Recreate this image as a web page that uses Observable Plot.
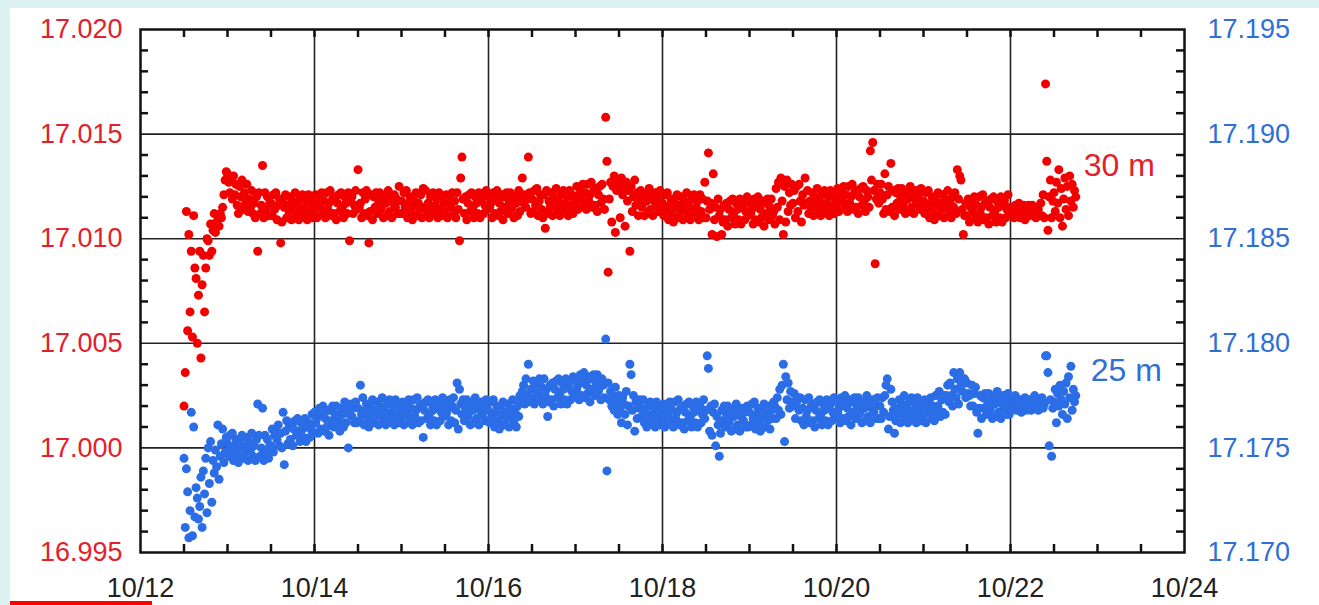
<!DOCTYPE html>
<html><head><meta charset="utf-8">
<script src="https://cdn.jsdelivr.net/npm/d3@7"></script>
<script src="https://cdn.jsdelivr.net/npm/@observablehq/plot@0.6"></script>
<style>
html,body{margin:0;padding:0;background:#ddf3f1;width:1319px;height:605px;overflow:hidden;position:relative;}
#card{position:absolute;left:10px;top:8px;width:1309px;height:597px;background:#fff;}
#bar{position:absolute;left:10px;top:601px;width:142px;height:4px;background:#f00;}
</style></head><body><div id="card"></div><div id="bar"></div>
<script>
// ---- axis ticks ----
const dayTicks = [12, 14, 16, 18, 20, 22, 24];
const dayLabels = ["10/12", "10/14", "10/16", "10/18", "10/20", "10/22", "10/24"];
const halfDayTicks = [12.5,13,13.5,14,14.5,15,15.5,16,16.5,17,17.5,18,18.5,19,19.5,20,20.5,21,21.5,22,22.5,23,23.5];
const leftTicks = [16.995, 17.000, 17.005, 17.010, 17.015, 17.020];
const minorLeftTicks = [16.996,16.997,16.998,16.999,17.001,17.002,17.003,17.004,17.006,17.007,17.008,17.009,17.011,17.012,17.013,17.014,17.016,17.017,17.018,17.019];
const rightOffset = 0.175; // right axis (25 m) = left axis + 0.175

// ---- time blocks (day of October); each block holds evenly spaced readings ----
const blockStarts = [12.5,13,13.5,14,14.5,15,15.5,16,16.5,17,17.5,18,18.5,19,19.5,20,20.5,21,21.5,22,22.5];
const blockEnds   = [13,13.5,14,14.5,15,15.5,16,16.5,17,17.5,18,18.5,19,19.5,20,20.5,21,21.5,22,22.5,22.75];

// 30 m series, left axis, in units of 0.0001 above 17.000
const red30 = [
[20,36,113,56,102,65,94,53,111,86,81,50,73,94,43,78,92,65,86,100,99,92,107,94,104,112,103,108,111,106,112,110,115,121,128,132],
[131,127,122,128,119,130,121,126,116,112,125,120,128,114,122,117,126,113,119,115,123,112,117,110,120,94,122,112,116,135,110,122,114,120,111,117],
[117,111,121,114,122,109,116,119,98,108,119,115,121,110,116,113,120,109,118,114,122,111,116,109,119,114,121,111,115,118,109,121,113,119,110,116],
[113,121,110,117,120,115,122,112,118,110,122,114,117,123,111,119,112,120,109,117,121,113,122,115,110,120,117,112,122,99,118,120,112,116,123,114],
[133,115,117,110,122,112,119,123,111,98,113,121,109,120,115,122,112,118,122,114,116,110,120,117,111,123,113,120,110,117,121,115,119,112,125,112],
[118,112,122,115,123,110,117,120,113,109,120,116,122,111,117,114,121,110,124,115,123,112,117,110,120,115,122,112,116,119,110,122,114,120,111,117],
[113,121,110,117,120,115,122,112,118,110,122,114,99,129,139,119,112,120,109,117,121,113,122,115,110,120,117,112,122,110,118,120,112,116,123,114],
[120,115,117,110,122,112,119,123,111,117,113,121,109,120,115,122,112,118,122,114,116,110,120,117,111,123,113,120,129,117,121,115,119,139,122,112],
[119,113,123,116,124,111,118,121,114,110,121,105,123,112,118,115,122,111,120,116,124,113,118,111,121,116,123,113,117,120,111,123,115,121,112,118],
[117,125,114,121,124,119,126,116,122,114,126,118,121,127,115,123,116,124,113,121,125,117,126,119,114,158,137,84,119,127,108,125,130,103,123,128],
[126,110,129,121,124,106,127,118,123,94,125,113,120,128,116,122,111,119,123,115,117,111,121,118,112,124,114,121,111,118,122,116,120,113,123,113],
[117,111,121,114,122,109,116,119,112,108,119,115,121,110,116,113,120,109,118,114,122,111,116,109,119,114,121,111,115,118,109,121,113,119,110,127],
[110,118,141,114,117,102,131,109,115,101,119,111,114,102,108,116,109,117,106,114,118,110,119,112,107,117,114,109,119,107,115,117,109,113,120,111],
[117,112,114,107,119,109,116,120,108,114,110,118,106,117,112,119,109,115,119,111,113,107,124,115,127,109,129,118,102,125,108,128,113,122,116,126],
[117,123,110,125,113,126,118,108,121,116,129,117,123,112,118,115,122,111,120,116,124,113,118,111,121,116,123,113,117,120,111,123,115,121,112,118],
[116,124,113,120,123,118,125,115,121,113,125,117,120,126,114,122,115,123,112,120,124,116,125,118,113,123,120,115,142,128,146,123,88,119,126,117],
[122,126,119,112,131,114,121,125,113,136,115,123,111,122,117,124,114,120,124,116,118,112,122,119,113,125,115,122,112,119,123,117,121,114,124,114],
[118,112,122,115,123,110,117,120,113,109,120,116,122,111,117,114,121,110,119,115,123,112,117,110,120,115,122,112,133,119,130,128,114,102,111,117],
[111,119,108,115,118,113,120,110,116,108,120,112,115,121,109,117,110,118,107,115,119,111,120,113,108,118,115,110,120,108,116,118,110,114,121,112],
[115,112,113,110,116,111,115,117,110,114,111,116,109,115,112,116,111,114,116,112,113,110,115,114,111,117,111,121,110,174,137,104,120,128,110,118],
[122,113,127,117,133,110,124,106,119,129,114,125,111,130,118,126,115,123,120]
];

// 25 m series, right axis, in units of 0.0001 above 17.170
const blue25 = [
[45,12,40,29,7,20,67,8,60,17,31,26,16,22,36,12,39,28,45,19,50,33,53,24,44,38,49,41,61,35,46,52,59,43,48,55],
[52,46,56,49,57,44,51,54,47,43,54,50,56,45,51,48,55,44,53,49,57,46,51,44,54,71,56,46,50,69,44,56,48,54,45,51],
[51,59,48,56,59,54,61,51,57,50,67,42,58,63,52,60,54,62,51,59,63,56,64,58,53,62,59,55,64,53,60,62,55,59,66,57],
[67,62,64,57,69,59,66,70,58,64,60,68,56,68,63,70,60,66,70,62,64,58,69,66,60,72,62,69,50,66,71,65,69,62,72,62],
[69,63,80,66,74,61,68,71,64,60,71,67,73,62,68,65,72,61,70,66,74,63,68,61,71,66,73,63,67,70,61,73,65,71,62,68],
[64,72,61,68,71,66,73,63,69,61,73,65,68,74,62,70,63,71,55,68,72,64,73,66,61,71,68,63,73,61,69,71,63,67,74,65],
[71,66,68,61,73,63,70,74,62,68,81,59,78,71,66,73,63,69,73,65,67,61,71,68,62,74,64,71,61,68,72,66,70,63,73,63],
[68,62,72,65,73,60,67,70,63,59,70,66,72,61,67,64,71,60,69,65,73,62,67,60,70,65,75,73,77,80,71,83,75,90,72,78],
[74,82,71,78,81,76,83,73,79,71,83,75,78,65,72,80,73,81,70,78,82,74,83,76,71,81,78,73,83,71,79,81,73,77,84,75],
[83,78,80,73,85,75,82,86,74,80,76,84,72,83,78,85,75,81,85,77,79,73,83,80,74,102,39,81,73,77,70,75,68,79,72,66],
[75,69,62,74,71,66,77,61,70,90,85,68,75,58,72,64,69,73,69,65,73,62,67,60,70,65,72,62,66,69,60,72,64,70,61,67],
[63,71,60,67,70,65,72,62,68,60,72,64,67,73,61,69,62,70,59,67,71,63,72,65,60,70,67,62,72,60,68,70,62,66,73,64],
[68,94,88,58,70,56,67,71,51,65,61,46,57,68,63,70,60,66,70,62,64,58,68,65,59,71,61,68,58,65,69,63,67,60,70,60],
[67,61,71,64,72,59,66,69,62,58,69,65,71,60,66,63,70,59,68,64,72,70,64,74,68,78,66,80,90,53,84,73,81,69,77,72],
[70,76,64,72,74,68,74,63,69,61,73,65,68,74,62,70,63,71,60,68,72,64,73,66,61,71,68,63,73,61,69,71,63,67,74,65],
[72,67,69,62,74,64,71,75,63,69,65,73,61,72,67,74,64,70,74,66,68,62,72,69,63,75,65,72,62,69,73,67,71,64,74,64],
[70,64,74,67,75,80,83,59,65,78,72,68,57,63,69,66,73,62,71,67,75,64,69,62,72,67,74,64,68,71,62,74,66,72,63,69],
[65,73,62,69,72,67,74,64,70,63,75,67,70,77,65,73,67,75,66,75,80,72,81,75,70,86,78,74,83,71,86,80,77,81,83,74],
[81,76,75,70,80,70,76,79,67,57,69,75,64,74,69,76,66,72,76,68,70,64,74,71,65,77,67,74,64,71,75,69,73,66,76,66],
[72,69,74,70,75,68,71,73,69,67,73,71,74,68,71,70,73,68,73,70,75,69,71,68,73,70,74,69,71,94,94,86,51,73,46,69],
[72,78,62,76,70,80,73,66,77,71,81,64,84,74,89,68,78,72,75]
];

const seriesNames = ["30 m", "25 m"];
const seriesColors = ["#f20000", "#2b6de6"];
const labelColors = ["#e3202b", "#2f6fd6"];

function expand(blocks, base, name) {
  return blocks.flatMap((b, k) => {
    const last = k === blocks.length - 1;
    const span = blockEnds[k] - blockStarts[k];
    return b.map((v, j) => ({
      series: name,
      day: blockStarts[k] + span * j / (last ? b.length - 1 : b.length),
      value: base + v / 10000
    }));
  });
}
const redData = expand(red30, 17.000, seriesNames[0]);
const blueData = expand(blue25, 17.170 - rightOffset, seriesNames[1]);

// series labels placed just after the end of each series, above its closing level
const labelData = [redData, blueData].map((d, i) => {
  const tail = d.slice(-19);
  return {text: seriesNames[i], day: d[d.length - 1].day, value: d3.mean(tail, e => e.value), color: labelColors[i]};
});
const labelShift = [{dx: 8, dy: -31}, {dx: 15, dy: -27}];

const W = 1309, H = 597, ML = 130, MR = 135, MT = 21, MB = 53;
const xDomain = [12, 24], yDomain = [16.995, 17.020];
const frameW = W - ML - MR, frameH = H - MT - MB, tickLen = 8;
// inward tick length expressed in data units
const tx = tickLen * (xDomain[1] - xDomain[0]) / frameW;
const ty = tickLen * (yDomain[1] - yDomain[0]) / frameH;
const font = "'Liberation Sans', Arial, Helvetica, sans-serif";
const tickLine = {stroke: "#111", strokeWidth: 2.5};
const plot = Plot.plot({
  width: W, height: H,
  marginLeft: ML, marginRight: MR, marginTop: MT, marginBottom: MB,
  style: {background: "white", fontFamily: font, fontSize: "27px", overflow: "visible"},
  x: {domain: xDomain},
  y: {domain: yDomain},
  marks: [
    Plot.ruleY(leftTicks.slice(1, -1), {stroke: "#222", strokeWidth: 1.6}),
    Plot.ruleX(dayTicks.slice(1, -1), {stroke: "#222", strokeWidth: 1.6}),
    Plot.dot(blueData, {x: "day", y: "value", r: 4.5, fill: seriesColors[1], stroke: null}),
    Plot.dot(redData, {x: "day", y: "value", r: 4.5, fill: seriesColors[0], stroke: null}),
    // inward minor ticks on all four sides
    Plot.ruleX(halfDayTicks, {x: d => d, y1: yDomain[0], y2: yDomain[0] + ty, ...tickLine}),
    Plot.ruleX(halfDayTicks, {x: d => d, y1: yDomain[1], y2: yDomain[1] - ty, ...tickLine}),
    Plot.ruleY(minorLeftTicks, {y: d => d, x1: xDomain[0], x2: xDomain[0] + tx, ...tickLine}),
    Plot.ruleY(minorLeftTicks, {y: d => d, x1: xDomain[1], x2: xDomain[1] - tx, ...tickLine}),
    // tick labels
    Plot.axisX({anchor: "bottom", ticks: dayTicks, tickSize: 0, tickPadding: 25, tickFormat: d => dayLabels[dayTicks.indexOf(d)], label: null, fill: "#222", fontSize: 27}),
    Plot.axisY({anchor: "left", ticks: leftTicks, tickSize: 0, tickPadding: 18, tickFormat: d => d.toFixed(3), label: null, fill: labelColors[0], fontSize: 27}),
    Plot.axisY({anchor: "right", ticks: leftTicks, tickSize: 0, tickPadding: 23, tickFormat: d => (d + rightOffset).toFixed(3), label: null, fill: labelColors[1], fontSize: 27}),
    Plot.frame({stroke: "#111", strokeWidth: 2.5}),
    ...labelData.map((d, i) => Plot.text([d], {x: "day", y: "value", text: "text", fill: "color", fontSize: 32, textAnchor: "start",
      dx: labelShift[i].dx, dy: labelShift[i].dy}))
  ]
});
document.getElementById("card").appendChild(plot);
</script></body></html>
